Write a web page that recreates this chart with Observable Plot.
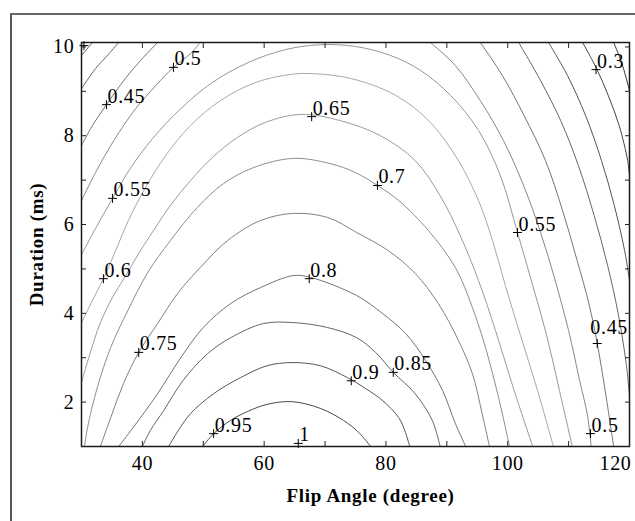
<!DOCTYPE html>
<html><head><meta charset="utf-8">
<script src="https://cdn.jsdelivr.net/npm/d3@7"></script>
<script src="https://cdn.jsdelivr.net/npm/@observablehq/plot@0.6"></script>
<style>
html,body{margin:0;padding:0;background:#fff;width:635px;height:521px;overflow:hidden;}
#wrap{position:relative;width:635px;height:521px;}
#chart{position:absolute;left:0;top:0;}
#bl{position:absolute;left:10px;top:13px;width:1.5px;height:508px;background:#555;}
#bt{position:absolute;left:10px;top:13px;width:625px;height:1.5px;background:#666;}
svg text{letter-spacing:0.7px;}
</style></head><body>
<div id="wrap"><div id="chart"></div><div id="bl"></div><div id="bt"></div></div>
<script>
// Contour lines: [flip angle (deg), duration (ms)]
const c025 = [[117.4,10.1],[118.7,9.65],[120,9.02]];
const c030 = [[112.3,10.1],[114.6,9.51],[116.5,8.91],[118.3,8.23],[119.7,7.44],[120,7.10]];
const c035L = [[30,9.81],[31.0,9.97],[31.8,10.1]];
const c035R = [[106.7,10.1],[109.8,9.36],[112.8,8.45],[115.4,7.44],[117.5,6.43],[119.2,5.41],[120,4.74]];
const c040L = [[30,9.06],[32.3,9.51],[34.4,9.83],[36.1,10.1]];
const c040R = [[101.8,10.1],[105.4,9.24],[108.7,8.34],[111.6,7.33],[114.2,6.20],[116.4,5.08],[118.2,3.95],[119.5,2.82],[120,2.15]];
const c045L = [[30,7.78],[31.8,8.23],[34.1,8.70],[37.2,9.29],[40.0,9.74],[42.5,10.1]];
const c045R = [[95.5,10.1],[99.1,9.36],[102.7,8.45],[106.2,7.44],[109.0,6.32],[111.4,5.19],[113.4,4.18],[114.7,3.32],[116.0,2.26],[117.4,1.0]];
const c050L = [[30,6.54],[32.3,7.17],[35.3,7.89],[38.9,8.61],[42.2,9.13],[45.1,9.54],[47.9,9.85],[49.5,10.1]];
const c050R = [[87.3,10.1],[91.4,9.58],[95.5,8.79],[99.3,7.89],[102.6,6.88],[105.4,5.82],[107.8,4.74],[110.0,3.61],[111.8,2.49],[113.1,1.70],[113.7,1.0]];
const c055 = [[30,5.32],[32.3,5.91],[35.1,6.59],[38.0,7.26],[41.7,7.94],[46.3,8.61],[51.5,9.20],[57.4,9.65],[63.5,9.94],[69.2,10.05],[75.0,10.01],[80.7,9.81],[85.7,9.47],[90.6,8.91],[95.2,8.12],[98.8,7.10],[101.6,5.82],[104.1,4.63],[106.4,3.50],[108.5,2.26],[110.6,1.0]];
const c060 = [[30,3.79],[31.8,4.29],[33.6,4.78],[35.6,5.41],[37.7,6.09],[40.5,6.83],[43.8,7.55],[47.9,8.23],[52.8,8.79],[58.6,9.20],[64.3,9.38],[67.6,9.40],[74.2,9.29],[81.6,8.91],[87.3,8.30],[91.9,7.44],[95.2,6.54],[97.5,5.64],[99.6,4.63],[102.1,3.50],[104.9,2.26],[107.5,1.0]];
const c065 = [[30,2.44],[31.3,3.05],[33.1,3.79],[35.1,4.36],[37.1,4.81],[39.4,5.35],[41.8,5.86],[44.6,6.43],[47.9,6.99],[51.5,7.51],[55.6,7.96],[60.2,8.30],[66.0,8.48],[72.5,8.34],[79.1,8.00],[84.8,7.44],[88.9,6.65],[92.2,5.75],[95.2,4.74],[98.0,3.61],[100.8,2.37],[104.1,1.0]];
const c070 = [[30.5,1.0],[31.0,1.43],[32.6,2.33],[34.8,3.23],[37.6,4.06],[40.8,4.90],[44.6,5.64],[49.0,6.38],[53.3,6.92],[58.2,7.28],[64.8,7.49],[70.9,7.37],[75.0,7.17],[78.6,6.88],[82.1,6.54],[87.0,5.86],[91.4,5.03],[94.2,4.13],[96.5,3.16],[98.5,2.10],[100.3,1.0]];
const c075 = [[33.1,1.0],[34.8,1.65],[36.9,2.42],[39.4,3.12],[42.5,3.77],[45.8,4.45],[49.5,5.03],[54.0,5.64],[59.4,6.09],[64.8,6.25],[70.4,6.16],[75.2,5.82],[80.4,5.41],[84.8,4.90],[88.6,4.22],[91.9,3.39],[94.2,2.64],[95.8,1.74],[97.0,1.0]];
const c080 = [[36.1,1.0],[38.5,1.43],[42.5,2.19],[46.3,3.00],[50.0,3.68],[54.5,4.22],[59.4,4.58],[64.8,4.85],[67.6,4.81],[75.2,4.40],[79.4,4.00],[83.2,3.55],[86.5,2.94],[89.3,2.26],[91.4,1.52],[93.1,1.0]];
const c085 = [[40.0,1.0],[41.3,1.36],[43.5,1.81],[46.7,2.49],[50.7,3.09],[54.5,3.45],[59.9,3.77],[64.8,3.79],[70.4,3.68],[75.2,3.45],[78.3,3.12],[81.2,2.67],[84.8,2.19],[87.6,1.59],[88.9,1.0]];
const c090 = [[44.3,1.0],[45.9,1.36],[47.9,1.74],[51.7,2.19],[56.1,2.55],[60.5,2.82],[64.6,2.89],[69.2,2.82],[73.7,2.55],[76.6,2.31],[79.4,2.04],[82.1,1.65],[83.2,1.32],[83.9,1.0]];
const c095 = [[49.9,1.0],[51.7,1.29],[54.5,1.59],[57.3,1.79],[60.5,1.95],[64.6,2.01],[69.2,1.86],[73.0,1.59],[75.5,1.32],[77.5,1.0]];

const contourLevels = [0.25,0.3,0.35,0.35,0.4,0.4,0.45,0.45,0.5,0.5,0.55,0.6,0.65,0.7,0.75,0.8,0.85,0.9,0.95];
const contourLines  = [c025,c030,c035L,c035R,c040L,c040R,c045L,c045R,c050L,c050R,c055,c060,c065,c070,c075,c080,c085,c090,c095];

// Contour labels ("+" marker position and text)
const labelText = ["0.5","0.45","0.55","0.6","0.75","0.95","1","0.65","0.8","0.9","0.85","0.7","0.55","0.45","0.5","0.3"];
const labelX    = [45.1,34.1,35.1,33.6,39.4,51.7,65.6,67.8,67.4,74.3,81.2,78.6,101.6,114.7,113.6,114.5];
const labelY    = [9.54,8.70,6.59,4.78,3.12,1.29,1.07,8.43,4.78,2.48,2.67,6.88,5.82,3.32,1.29,9.49];
const cornerMarkX = [30.4];
const cornerMarkY = [10.03];

// Axes
const xTickLabels = [40,60,80,100,120];
const yTickLabels = [2,4,6,8,10];
const xTickMarks = [40,50,60,70,80,90,100,110,120];
const yTickMarks = [1,2,3,4,5,6,7,8,9,10];
const xTitle = "Flip Angle (degree)";
const yTitle = "Duration (ms)";

const rows = [];
contourLines.forEach((pts, i) => pts.forEach(([x, y]) => rows.push({level: contourLevels[i], piece: i, x, y})));
const labels = labelText.map((t, i) => ({t, x: labelX[i], y: labelY[i]}));
const marks0 = cornerMarkX.map((x, i) => ({x, y: cornerMarkY[i]}));
const plainLabels = labels.filter((d, i) => i !== 13);
const raisedLabels = labels.filter((d, i) => i === 13);

const serif = "'Liberation Serif','Times New Roman',Times,serif";
const blank = () => "";

const chart = Plot.plot({
  width: 635, height: 521,
  marginLeft: 81, marginRight: 6, marginTop: 42, marginBottom: 75,
  style: {fontFamily: serif, background: "#fff", color: "#111"},
  x: {domain: [30, 120]},
  y: {domain: [1, 10.1]},
  color: {type: "linear", domain: [0.25, 0.6, 0.95], range: ["#333333", "#a8a8a8", "#4a4a4a"]},
  marks: [
    Plot.line(rows, {x: "x", y: "y", z: "piece", stroke: "level", strokeWidth: 1, curve: "catmull-rom", clip: true}),
    Plot.frame({stroke: "#1a1a1a", strokeWidth: 1.5}),
    Plot.axisX(xTickMarks, {anchor: "bottom", tickSize: 5, dy: -5, tickFormat: blank, label: null, stroke: "#222"}),
    Plot.axisX(xTickMarks, {anchor: "top", tickSize: 5, dy: 5, tickFormat: blank, label: null, stroke: "#222"}),
    Plot.axisY(yTickMarks, {anchor: "left", tickSize: 5, dx: 5, tickFormat: blank, label: null, stroke: "#222"}),
    Plot.axisY(yTickMarks, {anchor: "right", tickSize: 5, dx: -5, tickFormat: blank, label: null, stroke: "#222"}),
    Plot.axisX(xTickLabels.slice(0, 4), {anchor: "bottom", tickSize: 0, tickPadding: 9, fontSize: 20, label: null, fill: "#000"}),
    Plot.axisX(xTickLabels.slice(4), {anchor: "bottom", tickSize: 0, tickPadding: 9, dx: -14, fontSize: 20, label: null, fill: "#000"}),
    Plot.axisY(yTickLabels, {anchor: "left", tickSize: 0, tickPadding: 7, fontSize: 20, label: null, fill: "#000"}),
    Plot.dot(labels, {x: "x", y: "y", symbol: "plus", r: 3, stroke: "#000", strokeWidth: 1, fill: "none"}),
    Plot.dot(marks0, {x: "x", y: "y", symbol: "plus", r: 3, stroke: "#000", strokeWidth: 1, fill: "none"}),
    Plot.text(plainLabels, {x: "x", y: "y", text: "t", textAnchor: "start", lineAnchor: "bottom", dx: 1, dy: -2, fontSize: 20, fill: "#000"}),
    Plot.text(raisedLabels, {x: "x", y: "y", text: "t", textAnchor: "start", lineAnchor: "bottom", dx: -7, dy: -10, fontSize: 20, fill: "#000"}),
    Plot.text([xTitle], {frameAnchor: "bottom", textAnchor: "middle", dx: 15, dy: 49, lineAnchor: "middle", fontSize: 19, fontWeight: "bold", fill: "#000"}),
    Plot.text([yTitle], {frameAnchor: "left", textAnchor: "middle", dx: -45, rotate: -90, lineAnchor: "middle", fontSize: 19, fontWeight: "bold", fill: "#000"})
  ]
});
document.getElementById("chart").append(chart);
</script>
</body></html>
